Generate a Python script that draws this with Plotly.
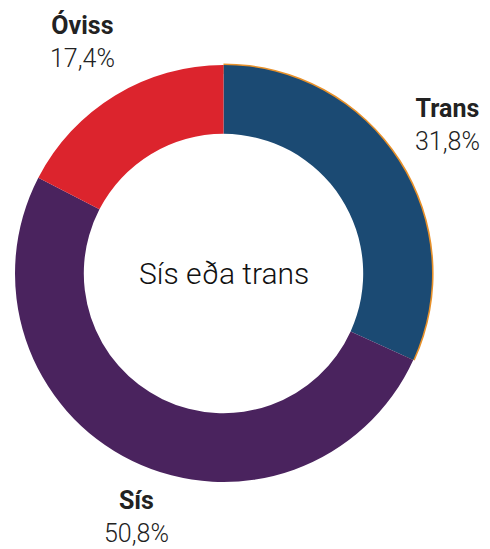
import math
import plotly.graph_objects as go

# Data
labels = ["Trans", "Sís", "Óviss"]
values = [31.8, 50.8, 17.4]
colors = ["#1b4a73", "#4a235e", "#dc242d"]
center_title = "Sís eða trans"

OFF = 8  # page body margin offset
W, H = 490 - OFF, 549 - OFF
cx, cy, R = 223.5 - OFF, 273.5 - OFF, 208.5
hole = 0.67

def dom(r):
    return dict(x=[(cx - r) / W, (cx + r) / W], y=[1 - (cy + r) / H, 1 - (cy - r) / H])

fig = go.Figure()
# thin orange rim behind the Trans slice
fig.add_trace(go.Pie(
    labels=labels, values=values, sort=False, direction="clockwise", rotation=0,
    hole=0.95, domain=dom(R + 1.6), textinfo="none", hoverinfo="skip", showlegend=False,
    marker=dict(colors=["#e8912a", "rgba(0,0,0,0)", "rgba(0,0,0,0)"], line=dict(width=0)),
))
fig.add_trace(go.Pie(
    labels=labels, values=values, sort=False, direction="clockwise", rotation=0,
    hole=hole, domain=dom(R), textinfo="none", showlegend=False,
    marker=dict(colors=colors, line=dict(width=0)),
))

total = sum(values)
label_r = {"Trans": 274, "Sís": 262, "Óviss": 272}
nudge = {"Trans": (-6, 0), "Sís": (28, 8), "Óviss": (0, 0)}
annotations = []
cum = 0.0
for lab, v in zip(labels, values):
    mid = (cum + v / 2) / total
    cum += v
    ang = math.radians(90 - 360 * mid)
    r = label_r[lab]
    px = cx + r * math.cos(ang) + nudge[lab][0]
    py = cy - r * math.sin(ang) + nudge[lab][1]
    pct = f"{v:.1f}".replace(".", ",") + "%"
    annotations.append(dict(
        x=px / W, y=1 - py / H, xref="paper", yref="paper", showarrow=False,
        xanchor="center", yanchor="middle",
        text=f"<b>{lab}</b><br><span style='font-weight:300'>{pct}</span>",
        font=dict(family="Roboto", size=25, color="#222222"),
    ))
annotations.append(dict(
    x=cx / W, y=1 - cy / H, xref="paper", yref="paper", showarrow=False,
    xanchor="center", yanchor="middle", text=center_title,
    font=dict(family="Roboto", size=30, color="#111111", weight=300),
))

fig.update_layout(
    width=W, height=H, margin=dict(l=0, r=0, t=0, b=0),
    paper_bgcolor="white", plot_bgcolor="white",
    annotations=annotations, separators=",.",
)
fig.write_html("out.html")
